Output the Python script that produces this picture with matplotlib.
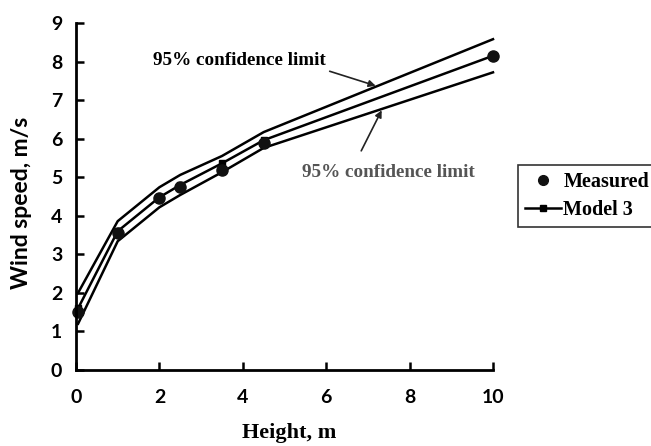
import matplotlib.pyplot as plt
from matplotlib.lines import Line2D

# heights (m) and wind speeds (m/s)
measured_x = [0.05, 1, 2, 2.5, 3.5, 4.5, 10]
measured_y = [1.5, 3.55, 4.45, 4.75, 5.2, 5.9, 8.15]

model_x = [0.05, 1, 2, 2.5, 3.5, 4.5, 10]
model_y = [1.6, 3.6, 4.48, 4.8, 5.36, 5.96, 8.15]
upper_y = [2.0, 3.86, 4.74, 5.06, 5.55, 6.17, 8.58]
lower_y = [1.2, 3.34, 4.22, 4.54, 5.13, 5.76, 7.72]

x_ticks = [0, 2, 4, 6, 8, 10]
y_ticks = list(range(0, 10))

W, H = 651, 446
fig = plt.figure(figsize=(W / 100, H / 100), dpi=100)
ax = fig.add_axes([76 / W, 1 - 370 / H, (493 - 76) / W, (370 - 23) / H])

sans = ['Lato', 'DejaVu Sans']
serif = ['Liberation Serif', 'DejaVu Serif']

ax.plot(model_x, upper_y, color='black', lw=1.8, clip_on=False)
ax.plot(model_x, lower_y, color='black', lw=1.8, clip_on=False)
ax.plot(model_x, model_y, color='black', lw=1.8, marker='s', ms=5, clip_on=False)
ax.plot(measured_x, measured_y, 'o', color='#111111', ms=8, ls='none', clip_on=False)

ax.set_xlim(0, 10)
ax.set_ylim(0, 9)
ax.set_xticks(x_ticks)
ax.set_yticks(y_ticks)
for s in ['top', 'right']:
    ax.spines[s].set_visible(False)
for s in ['left', 'bottom']:
    ax.spines[s].set_linewidth(2)
ax.tick_params(direction='in', length=6, width=1.8)
ax.tick_params(axis='x', pad=14)
ax.tick_params(axis='y', pad=10)
for lab in ax.get_xticklabels() + ax.get_yticklabels():
    lab.set_family(sans)
    lab.set_fontweight('bold')
    lab.set_fontsize(14)

fig.text(22 / W, 1 - 203 / H, 'Wind speed, m/s', rotation=90, ha='center', va='center',
         family=sans, fontweight='bold', fontsize=16.5)
fig.text(289 / W, 1 - 433 / H, 'Height, m', ha='center', va='center',
         family=serif, fontweight='bold', fontsize=16)

arrow = dict(arrowstyle='-|>', color='#222222', lw=1.2, mutation_scale=10)
ax.annotate('', xy=(7.25, 7.35), xytext=(6.02, 7.77), arrowprops=arrow)
ax.text(1.85, 8.03, '95% confidence limit', ha='left', va='center',
        family=serif, fontweight='bold', fontsize=13.8)
ax.annotate('', xy=(7.36, 6.8), xytext=(6.81, 5.62), arrowprops=arrow)
ax.text(5.42, 5.13, '95% confidence limit', ha='left', va='center', color='#555555',
        family=serif, fontweight='bold', fontsize=13.8)

handles = [Line2D([], [], marker='o', color='#111111', ls='none', ms=7),
           Line2D([], [], marker='s', color='black', lw=1.8, ms=5)]
leg = fig.legend(handles, ['Measured', 'Model 3'], loc='upper left',
                 bbox_to_anchor=(518 / W, 1 - 165 / H), frameon=True, fancybox=False,
                 edgecolor='black', handlelength=1.8, handletextpad=0.1,
                 borderpad=0.35, labelspacing=0.4, borderaxespad=0,
                 prop={'family': serif, 'weight': 'bold', 'size': 14.5})
leg.get_frame().set_linewidth(1.2)

fig.savefig('out.png', dpi=100)
